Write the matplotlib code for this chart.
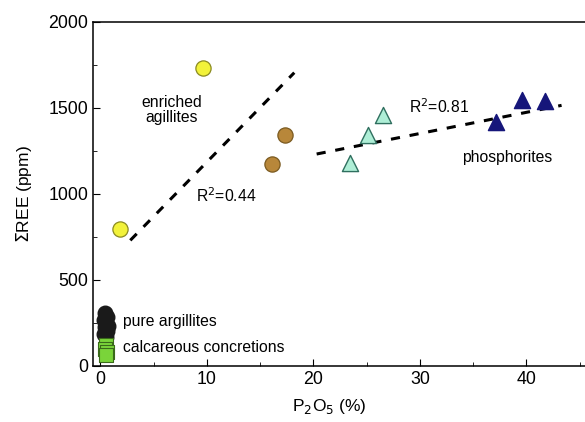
import matplotlib.pyplot as plt
from matplotlib.ticker import MultipleLocator

plt.rcParams['font.family'] = ['Liberation Sans', 'DejaVu Sans']

# enriched argillites (yellow)
yel_x = [1.8, 9.6]
yel_y = [795, 1735]
# enriched argillites (brown)
brn_x = [17.3, 16.1]
brn_y = [1340, 1172]
# open triangles
aq_x = [23.4, 25.1, 26.5]
aq_y = [1180, 1340, 1460]
# phosphorites
ph_x = [37.1, 39.6, 41.7]
ph_y = [1420, 1545, 1542]
# pure argillites
pa_x = [0.4, 0.6, 0.3, 0.5, 0.4, 0.6, 0.3, 0.5, 0.7]
pa_y = [305, 285, 265, 245, 225, 205, 185, 165, 230]
# calcareous concretions
cc_x = [0.5, 0.4, 0.6, 0.5]
cc_y = [120, 100, 80, 65]

# trend lines
fit1_x = [2.8, 18.2]
fit1_y = [730, 1705]
fit2_x = [20.3, 43.3]
fit2_y = [1232, 1515]

fig = plt.figure(figsize=(5.85, 4.22), dpi=100)
ax = fig.add_axes([0.159, 0.133, 0.841, 0.815])

ax.plot(fit1_x, fit1_y, ls=(0, (3, 3.2)), color='black', lw=2.2, zorder=2)
ax.plot(fit2_x, fit2_y, ls=(0, (3, 3.2)), color='black', lw=2.2, zorder=2)

ax.scatter(pa_x, pa_y, s=110, c='#1a1a1a', edgecolors='#1a1a1a', zorder=3)
ax.scatter(cc_x, cc_y, s=110, marker='s', c='#7ad43a', edgecolors='#3a6a1a', lw=0.8, zorder=3)
ax.scatter(yel_x, yel_y, s=120, c='#f2f23a', edgecolors='#8a8a20', lw=0.9, zorder=3)
ax.scatter(brn_x, brn_y, s=120, c='#b8873a', edgecolors='#7a5a20', lw=0.9, zorder=3)
ax.scatter(aq_x, aq_y, s=135, marker='^', c='#aeeed6', edgecolors='#2f6f5f', lw=1.0, zorder=3)
ax.scatter(ph_x, ph_y, s=135, marker='^', c='#16167a', edgecolors='#16167a', zorder=3)

fs = 11.3
ax.text(6.7, 1490, 'enriched\nagillites', ha='center', va='center', fontsize=fs, linespacing=1.0)
ax.text(9.0, 990, 'R$^2$=0.44', ha='left', va='center', fontsize=fs)
ax.text(29.0, 1510, 'R$^2$=0.81', ha='left', va='center', fontsize=fs)
ax.text(34.0, 1210, 'phosphorites', ha='left', va='center', fontsize=fs)
ax.text(2.1, 258, 'pure argillites', ha='left', va='center', fontsize=fs)
ax.text(2.1, 105, 'calcareous concretions', ha='left', va='center', fontsize=fs)

ax.set_xlim(-0.7, 45.5)
ax.set_ylim(0, 2000)
ax.xaxis.set_major_locator(MultipleLocator(10))
ax.xaxis.set_minor_locator(MultipleLocator(5))
ax.yaxis.set_major_locator(MultipleLocator(500))
ax.yaxis.set_minor_locator(MultipleLocator(250))
ax.tick_params(which='both', direction='in', top=False, right=False, labelsize=12.8)
ax.tick_params(which='major', length=5)
ax.tick_params(which='minor', length=3)
ax.spines['right'].set_visible(False)
for s in ['left', 'bottom', 'top']:
    ax.spines[s].set_linewidth(1.1)

ax.set_xlabel('P$_2$O$_5$ (%)', fontsize=12.5, labelpad=7)
ax.set_ylabel('$\\Sigma$REE (ppm)', fontsize=12.5, labelpad=10)
ax.xaxis.set_label_coords(0.48, -0.09)

fig.savefig('out.png', dpi=100)
